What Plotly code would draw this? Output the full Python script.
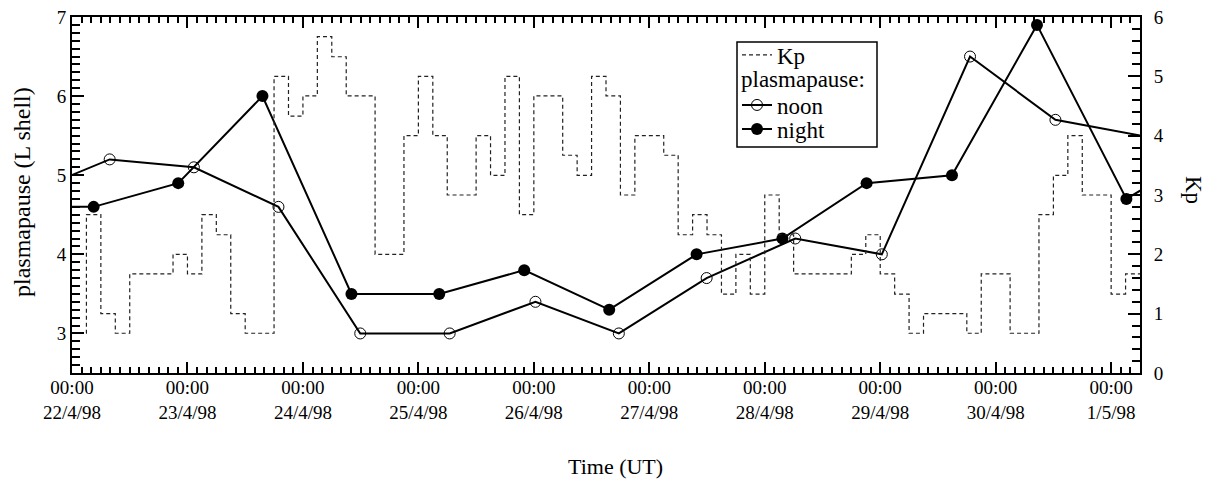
import plotly.graph_objects as go
from datetime import datetime, timedelta

# ---------------- data ----------------
kp_start = "1998-04-22 00:00"
kp_step_hours = 3
kp_values = [0.67, 2.67, 1.0, 0.67, 1.67, 1.67, 1.67, 2.0, 1.67, 2.67,
             2.33, 1.0, 0.67, 0.67, 5.0, 4.33, 4.67, 5.67, 5.33, 4.67,
             4.67, 2.0, 2.0, 4.0, 5.0, 4.0, 3.0, 3.0, 4.0, 3.33,
             5.0, 2.67, 4.67, 4.67, 3.67, 3.33, 5.0, 4.67, 3.0, 4.0,
             4.0, 3.67, 2.33, 2.67, 2.33, 1.33, 2.0, 1.33, 3.0, 2.33,
             1.67, 1.67, 1.67, 1.67, 2.0, 2.33, 1.67, 1.33, 0.67, 1.0,
             1.0, 1.0, 0.67, 1.67, 1.67, 0.67, 0.67, 2.67, 3.33, 4.0,
             3.0, 3.0, 1.33, 1.67]

noon_times = ["1998-04-21 14:00", "1998-04-22 07:50", "1998-04-23 01:20",
              "1998-04-23 18:55", "1998-04-24 11:55", "1998-04-25 06:30",
              "1998-04-26 00:20", "1998-04-26 17:40", "1998-04-27 11:55",
              "1998-04-28 06:20", "1998-04-29 00:20", "1998-04-29 18:40",
              "1998-04-30 12:25", "1998-05-02 00:00"]
noon_L = [4.75, 5.2, 5.1, 4.6, 3.0, 3.0, 3.4, 3.0, 3.7, 4.2, 4.0, 6.5, 5.7, 5.3]

night_times = ["1998-04-21 11:00", "1998-04-22 04:30", "1998-04-22 22:05",
               "1998-04-23 15:35", "1998-04-24 10:05", "1998-04-25 04:20",
               "1998-04-25 22:00", "1998-04-26 15:40", "1998-04-27 09:50",
               "1998-04-28 03:40", "1998-04-28 21:10", "1998-04-29 14:55",
               "1998-04-30 08:35", "1998-05-01 03:10", "1998-05-01 21:00"]
night_L = [4.6, 4.6, 4.9, 6.0, 3.5, 3.5, 3.8, 3.3, 4.0, 4.2, 4.9, 5.0, 6.9, 4.7, 5.35]

x_tick_vals = ["1998-04-22", "1998-04-23", "1998-04-24", "1998-04-25", "1998-04-26",
               "1998-04-27", "1998-04-28", "1998-04-29", "1998-04-30", "1998-05-01"]
x_tick_text = ["00:00<br>22/4/98", "00:00<br>23/4/98", "00:00<br>24/4/98",
               "00:00<br>25/4/98", "00:00<br>26/4/98", "00:00<br>27/4/98",
               "00:00<br>28/4/98", "00:00<br>29/4/98", "00:00<br>30/4/98",
               "00:00<br>1/5/98"]
x_range = ["1998-04-22 00:00", "1998-05-01 06:00"]

# ---------------- build ----------------
t0 = datetime.strptime(kp_start, "%Y-%m-%d %H:%M")
kp_x = [t0 + timedelta(hours=kp_step_hours * i) for i in range(len(kp_values) + 1)]
kp_y = kp_values + [kp_values[-1]]

FONT = "Liberation Serif, Times New Roman, serif"
FS = 19      # tick labels
FL = 23      # legend

fig = go.Figure()
fig.add_trace(go.Scatter(
    x=kp_x, y=kp_y, yaxis="y2", mode="lines", line_shape="hv", name="Kp",
    line=dict(color="#222222", width=1.2, dash="4px,3px"), legend="legend"))
fig.add_trace(go.Scatter(
    x=noon_times, y=noon_L, mode="lines+markers", name="noon",
    line=dict(color="black", width=2),
    marker=dict(symbol="circle-open", size=11, color="black", line=dict(width=1)),
    legend="legend2"))
fig.add_trace(go.Scatter(
    x=night_times, y=night_L, mode="lines+markers", name="night",
    line=dict(color="black", width=2),
    marker=dict(symbol="circle", size=12, color="black"),
    legend="legend3"))

axis_common = dict(showline=True, linecolor="black", linewidth=2, ticks="inside",
                   tickcolor="black", tickwidth=2, showgrid=False, zeroline=False,
                   automargin=False, ticklabeloverflow="allow",
                   tickfont=dict(family=FONT, size=FS, color="black"))

# page body has an 8px margin, so the figure is drawn 8px smaller and shifted
OFF = 8
L0, L1, T0, T1 = 72, 1140, 17, 373   # plot area in the reference image
W, H = 1217 - OFF, 480 - OFF
pw, ph = L1 - L0, T1 - T0

def px(x):
    return (x - L0) / pw

def py(y):
    return 1 - (y - T0) / ph

def leg(yrow):
    return dict(x=px(737), y=py(yrow), xanchor="left", yanchor="middle",
                bgcolor="rgba(0,0,0,0)", borderwidth=0,
                font=dict(family=FONT, size=FL), itemwidth=30)

fig.update_layout(
    width=W, height=H,
    margin=dict(l=L0 - OFF, r=W - (L1 - OFF), t=T0 - OFF, b=H - (T1 - OFF)),
    paper_bgcolor="white", plot_bgcolor="white",
    font=dict(family=FONT, size=FS, color="black"),
    showlegend=True,
    xaxis=dict(**axis_common, mirror="ticks", range=x_range, type="date",
               tickmode="array", tickvals=x_tick_vals, ticktext=x_tick_text,
               ticklen=11, ticklabelstandoff=-4,
               minor=dict(dtick=7200000, tick0="1998-04-22", ticks="inside",
                          ticklen=6, tickcolor="black", tickwidth=1.5)),
    yaxis=dict(**axis_common, range=[2.5, 7], tickvals=[3, 4, 5, 6, 7], ticklen=12,
               minor=dict(dtick=0.1, tick0=0, ticks="inside", ticklen=8,
                          tickcolor="black", tickwidth=1.5)),
    yaxis2=dict(**axis_common, overlaying="y", side="right", range=[0, 6],
                tickvals=[0, 1, 2, 3, 4, 5, 6], ticklen=12, ticklabelstandoff=8,
                minor=dict(dtick=0.2, tick0=0, ticks="inside", ticklen=8,
                           tickcolor="black", tickwidth=1.5)),
    legend=leg(55),
    legend2=leg(105),
    legend3=leg(129),
    shapes=[dict(type="rect", xref="paper", yref="paper",
                 x0=px(737), x1=px(877), y0=py(147), y1=py(42),
                 line=dict(color="black", width=1.5))],
    annotations=[
        dict(text="plasmapause:", xref="paper", yref="paper", x=px(739), y=py(80),
             xanchor="left", yanchor="middle", showarrow=False,
             font=dict(family=FONT, size=FL)),
        dict(text="Kp", xref="paper", yref="paper", x=px(1194), y=py(190),
             xanchor="center", yanchor="middle",
             showarrow=False, textangle=90, font=dict(family=FONT, size=23)),
        dict(text="plasmapause (L shell)", xref="paper", yref="paper",
             x=px(22), y=py(192), xanchor="center", yanchor="middle",
             showarrow=False, textangle=-90, font=dict(family=FONT, size=24)),
        dict(text="Time (UT)", xref="paper", yref="paper",
             x=px(615), y=py(466), xanchor="center", yanchor="middle",
             showarrow=False, font=dict(family=FONT, size=22)),
    ],
)

fig.write_html("out.html")
